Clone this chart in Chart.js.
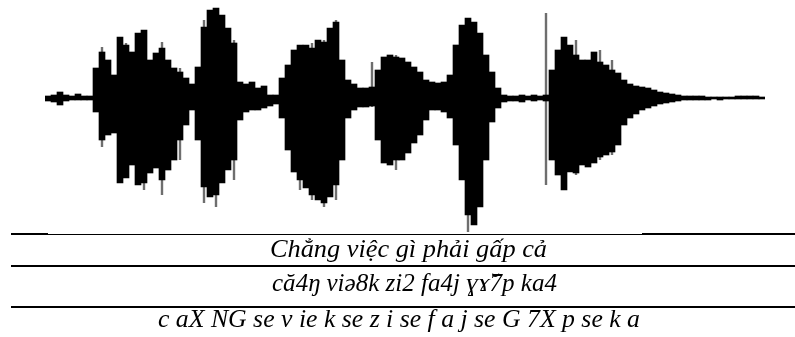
<!DOCTYPE html>
<html>
<head>
<meta charset="utf-8">
<script src="https://cdn.jsdelivr.net/npm/chart.js@4/dist/chart.umd.min.js"></script>
<style>
  body { margin: 0; background: #fff; }
  canvas { display: block; }
</style>
</head>
<body>
<canvas id="wave" width="795" height="337"></canvas>
<script>
// envelope of the recording, one column per sample block (amplitude above / below the zero line)
const upper = [
  2, 3, 6, 3, 2, 4, 2, 2, 30, 46, 38, 23, 61, 53, 46, 65, 68, 38, 45, 50,
  38, 30, 26, 20, 14, 31, 71, 88, 90, 83, 70, 55, 16, 14, 16, 10, 12, 3, 3, 20,
  33, 48, 53, 53, 50, 58, 56, 70, 76, 38, 18, 14, 10, 10, 11, 28, 41, 43, 41, 40,
  36, 31, 26, 18, 16, 15, 16, 23, 53, 73, 80, 76, 65, 43, 26, 10, 3, 2, 2, 3,
  2, 3, 2, 3, 28, 48, 61, 53, 43, 38, 38, 46, 36, 33, 28, 25, 18, 14, 12, 11,
  10, 8, 6, 5, 4, 3, 2, 2, 2, 2, 1, 1, 1, 1, 1, 2, 2, 2, 2, 1,
];
const lower = [
  -3, -4, -7, -3, -2, -2, -2, -2, -14, -42, -37, -35, -85, -80, -67, -87, -85, -75, -70, -82,
  -72, -62, -42, -27, -12, -42, -89, -99, -97, -85, -72, -62, -22, -14, -12, -12, -10, -8, -6, -20,
  -52, -74, -82, -90, -97, -102, -105, -99, -87, -62, -20, -12, -9, -9, -8, -42, -65, -67, -62, -62,
  -55, -45, -37, -22, -12, -12, -14, -20, -47, -82, -117, -127, -109, -62, -24, -10, -4, -3, -3, -4,
  -2, -3, -2, -3, -62, -77, -92, -74, -75, -67, -69, -65, -59, -57, -54, -47, -27, -20, -16, -12,
  -10, -8, -6, -5, -4, -3, -2, -2, -2, -2, -2, -1, -2, -1, -1, -1, -1, -1, -1, -1,
];

// thin grey clipping spikes that stick out of the envelope
const spikeAt = [9, 13, 16, 19, 22, 26, 28, 31, 42, 44, 46, 48, 54, 58, 70, 83, 88, 92, 94];
const spikeUpper = [51, 55, 68, 56, 30, 78, 90, 58, 53, 55, 58, 78, 36, 43, 76, 85, 58, 48, 38];
const spikeLower = [-49, -72, -92, -97, -62, -105, -109, -82, -92, -102, -109, -102, -9, -72, -134, -87, -77, -62, -57];

const captions = [
  'Chẳng việc gì phải gấp cả',
  'că4ŋ viə8k zi2 fa4j ɣɤ̆7p ka4',
  'c aX NG se v ie k se z i se f a j se G 7X p se k a',
];

const labels = upper.map((_, i) => i);
const envelope = upper.map((hi, i) => [lower[i], hi]);
const spikes = labels.map(() => null);
spikeAt.forEach((idx, k) => {
  spikes[idx] = [spikeLower[k], spikeUpper[k]];
});

const captionPlugin = {
  id: 'captions',
  afterDraw: (chart) => {
    const ctx = chart.ctx;
    ctx.save();
    ctx.fillStyle = '#000';
    // rules under the waveform and between the caption rows
    ctx.fillRect(11, 233, 37, 2);
    ctx.fillRect(48, 234, 594, 1);
    ctx.fillRect(642, 233, 153, 2);
    ctx.fillRect(11, 265, 784, 2);
    ctx.fillRect(11, 306, 784, 2);

    // left, right, baseline, font size
    const slots = [[270, 547, 257, 25], [272, 557, 291, 25], [158, 640, 327, 25]];
    captions.forEach((text, i) => {
      const [x0, x1, y, size] = slots[i];
      ctx.font = `italic ${size}px "Liberation Serif", serif`;
      const w = ctx.measureText(text).width;
      ctx.save();
      ctx.translate(x0, y);
      ctx.scale((x1 - x0) / w, 1);
      ctx.fillText(text, 0, 0);
      ctx.restore();
    });
    ctx.restore();
  },
};

new Chart(document.getElementById('wave'), {
  type: 'bar',
  data: {
    labels: labels,
    datasets: [
      {
        data: envelope,
        backgroundColor: '#000',
        barPercentage: 1,
        categoryPercentage: 1,
        grouped: false,
        order: 0,
      },
      {
        data: spikes,
        backgroundColor: '#6e6e6e',
        barPercentage: 0.4,
        categoryPercentage: 1,
        grouped: false,
        order: 1,
      },
    ],
  },
  options: {
    responsive: false,
    animation: false,
    layout: { padding: { left: 45, right: 30, top: 0, bottom: 97 } },
    plugins: {
      legend: { display: false },
      tooltip: { enabled: false },
    },
    scales: {
      x: { display: false },
      y: { display: false, min: -142, max: 98 },
    },
  },
  plugins: [captionPlugin],
});
</script>
</body>
</html>
